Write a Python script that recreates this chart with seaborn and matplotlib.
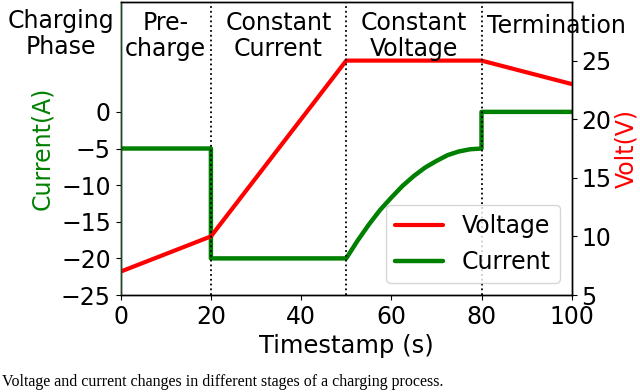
import numpy as np
import pandas as pd
import matplotlib
matplotlib.use("Agg")
import matplotlib.pyplot as plt
import matplotlib.transforms as mtransforms
import seaborn as sns

# data
volt_t = [0, 20, 50, 80, 100]
volt_v = [7, 10, 25, 25, 23]

curr_t = [0, 20, 20, 50, 52.5, 55, 57.5, 60, 62.5, 65, 67.5, 70, 72.5, 75, 77.5, 80, 80, 100]
curr_a = [-5, -5, -20, -20, -17.6, -15.4, -13.4, -11.7, -10.1, -8.75, -7.6, -6.7, -5.9, -5.4, -5.1, -5, 0, 0]

phase_x = [20, 50, 80]
phase_names = ["Pre-\ncharge", "Constant\nCurrent", "Constant\nVoltage", "Termination"]
phase_pos = [10, 35, 65, 81.2]

volt_df = pd.DataFrame({"t": volt_t, "v": volt_v})
curr_df = pd.DataFrame({"t": curr_t, "a": curr_a})

sns.set_style("ticks")
plt.rcParams.update({
    "font.family": ["DejaVu Sans"],
    "font.size": 17,
    "axes.edgecolor": "black",
    "text.color": "black",
    "xtick.color": "black",
    "ytick.color": "black",
    "axes.labelcolor": "black",
    "axes.linewidth": 1.0,
})
FS = 17

fig = plt.figure(figsize=(6.4, 3.92), dpi=100)
ax1 = fig.add_axes([0.1886, 0.2474, 0.7047, 0.7475])
ax2 = ax1.twinx()

sns.lineplot(data=curr_df, x="t", y="a", ax=ax1, color="green", lw=3.2,
             estimator=None, sort=False, label="Current", legend=False)
sns.lineplot(data=volt_df, x="t", y="v", ax=ax2, color="red", lw=3,
             estimator=None, sort=False, label="Voltage", legend=False)

for xv in phase_x:
    ax2.axvline(xv, color="black", ls=":", lw=1.3, zorder=5)

ax1.set_xlim(0, 100)
ax1.set_ylim(-25, 15)
ax1.set_yticks([-25, -20, -15, -10, -5, 0])
ax1.set_xticks([0, 20, 40, 60, 80, 100])
ax2.set_ylim(5, 30)
ax2.set_yticks([5, 10, 15, 20, 25])

ax1.tick_params(labelsize=FS)
ax2.tick_params(labelsize=FS)

ax1.set_xlabel("Timestamp (s)", fontsize=FS + 0.5, labelpad=4)
ax1.set_ylabel("Current(A)", color="green", fontsize=FS, labelpad=5)
ax2.set_ylabel("Volt(V)", color="red", fontsize=FS, labelpad=2)
ax2.spines["left"].set_color("#1e4a1e")

trans = mtransforms.blended_transform_factory(ax1.transData, ax1.transAxes)
for name, xp in zip(phase_names[:3], phase_pos[:3]):
    ax2.text(xp, 0.885, name, transform=trans, ha="center", va="center",
             fontsize=FS, linespacing=1.1)
ax2.text(phase_pos[3], 0.918, phase_names[3], transform=trans, ha="left",
         va="center", fontsize=FS)
fig.text(61 / 640, 1 - 34 / 392, "Charging\nPhase", ha="center", va="center",
         fontsize=FS, linespacing=1.1)

h1, l1 = ax1.get_legend_handles_labels()
h2, l2 = ax2.get_legend_handles_labels()
leg = ax2.legend(h2 + h1, l2 + l1, loc="lower right", fontsize=FS,
                 frameon=True, fancybox=True, framealpha=0.8,
                 borderaxespad=0.5)
leg.get_frame().set_edgecolor("#cccccc")

fig.text(0.003, 2 / 392,
         "Voltage and current changes in different stages of a charging process.",
         ha="left", va="bottom", fontsize=11.5, family=["Liberation Serif"])

fig.savefig("out.png", dpi=100)
